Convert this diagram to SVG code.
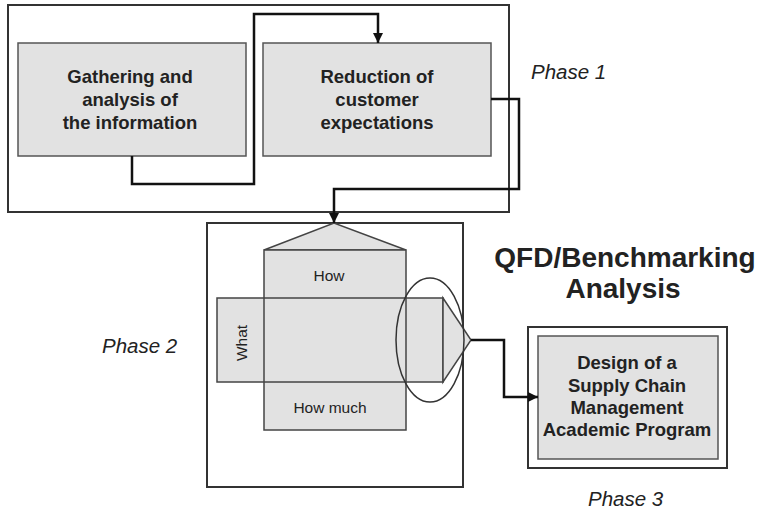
<svg xmlns="http://www.w3.org/2000/svg" width="759" height="510" viewBox="0 0 759 510">
<style>
.frame{fill:none;stroke:#333;stroke-width:2}
.box{fill:#e2e2e2;stroke:#555;stroke-width:1.5}
.shape{fill:#e2e2e2;stroke:#444;stroke-width:1.5}
.conn{fill:none;stroke:#111;stroke-width:2.5}
.bt{font-family:"Liberation Sans",Arial,sans-serif;font-weight:bold;font-size:18.5px;fill:#222;text-anchor:middle}
.ph{font-family:"Liberation Sans",Arial,sans-serif;font-style:italic;font-size:20.5px;fill:#222}
.st{font-family:"Liberation Sans",Arial,sans-serif;font-size:15.5px;fill:#222;text-anchor:middle}
</style>
<defs>
<marker id="ah" viewBox="0 0 10 10" refX="10" refY="5" markerWidth="4" markerHeight="4" markerUnits="strokeWidth" orient="auto">
<path d="M0,0 L10,5 L0,10 Z" fill="#111"/>
</marker>
</defs>
<g id="phase1">
<rect class="frame" x="8" y="5" width="501" height="207"/>
<text class="ph" x="531" y="79">Phase 1</text>
</g>
<g id="gathering">
<rect class="box" x="18" y="43" width="228" height="113"/>
<text class="bt" x="130" y="83">Gathering and</text>
<text class="bt" x="130" y="106">analysis of</text>
<text class="bt" x="130" y="129">the information</text>
</g>
<g id="reduction">
<rect class="box" x="263" y="43" width="228" height="113"/>
<text class="bt" x="377" y="83">Reduction of</text>
<text class="bt" x="377" y="106">customer</text>
<text class="bt" x="377" y="129">expectations</text>
</g>
<g id="phase2">
<rect class="frame" x="207" y="223" width="256" height="264"/>
<text class="ph" x="102" y="353">Phase 2</text>
</g>
<g id="qfd-house">
<polygon class="shape" points="264,250 334,223 406,250"/>
<rect class="shape" x="264" y="250" width="142" height="180"/>
<rect class="shape" x="217" y="298" width="226" height="84"/>
<line x1="264" y1="298" x2="264" y2="382" stroke="#444" stroke-width="1.5"/>
<line x1="406" y1="298" x2="406" y2="382" stroke="#444" stroke-width="1.5"/>
<polygon class="shape" points="443,298 471,340 443,382"/>
<ellipse cx="430" cy="340" rx="34" ry="62" fill="none" stroke="#333" stroke-width="1.5"/>
<text class="st" x="329" y="281">How</text>
<text class="st" x="330" y="413">How much</text>
<text class="st" transform="translate(247,343) rotate(-90)" x="0" y="0">What</text>
</g>
<g id="title">
<text x="625" y="267" font-family="'Liberation Sans',Arial,sans-serif" font-weight="bold" font-size="28" fill="#222" text-anchor="middle">QFD/Benchmarking</text>
<text x="623" y="298" font-family="'Liberation Sans',Arial,sans-serif" font-weight="bold" font-size="28" fill="#222" text-anchor="middle">Analysis</text>
</g>
<g id="phase3">
<rect class="frame" x="528" y="327" width="199" height="141"/>
<rect class="box" x="538" y="336" width="180" height="123"/>
<text class="bt" x="627" y="369">Design of a</text>
<text class="bt" x="627" y="392">Supply Chain</text>
<text class="bt" x="627" y="414">Management</text>
<text class="bt" x="627" y="436">Academic Program</text>
<text class="ph" x="588" y="506">Phase 3</text>
</g>
<g id="connectors">
<path class="conn" d="M132,156 V184 H254 V14 H378 V43" marker-end="url(#ah)"/>
<path class="conn" d="M491,99 H519 V189 H334 V223" marker-end="url(#ah)"/>
<path class="conn" d="M471,340 H504 V397 H538" marker-end="url(#ah)"/>
</g>
</svg>
